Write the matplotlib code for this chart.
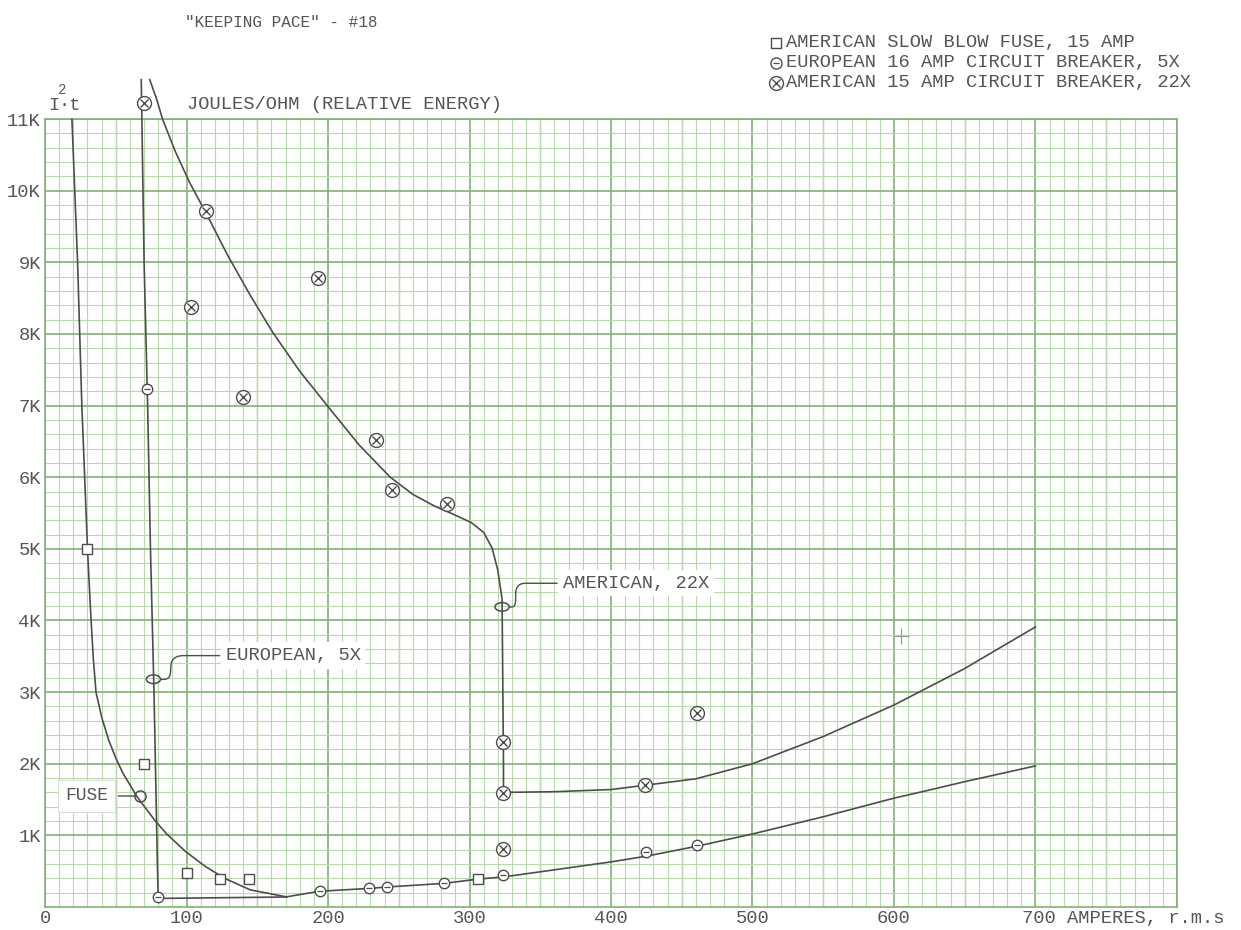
import numpy as np
import matplotlib
matplotlib.use("Agg")
import matplotlib.pyplot as plt
from matplotlib.path import Path
from matplotlib.patches import PathPatch, Ellipse
import matplotlib.transforms as mtransforms

plt.rcParams['font.family'] = ['Liberation Mono', 'DejaVu Sans Mono', 'DejaVu Sans']

# measured points (amperes, joules/ohm)
fuse_x = [30, 70, 100, 124, 144, 306]
fuse_y = [5000, 2000, 470, 390, 390, 390]

euro_x = [72, 80, 194, 229, 242, 282, 324, 425, 461]
euro_y = [7230, 140, 220, 260, 280, 330, 450, 770, 870]

amer_x = [70, 114, 103, 140, 193, 234, 245, 284, 324, 324, 324, 424, 461]
amer_y = [11230, 9710, 8380, 7120, 8780, 6520, 5820, 5630, 2310, 1590, 810, 1700, 2710]

# hand drawn curves
fuse_curve_x = [19, 23, 26, 30, 32, 34, 36, 40, 45, 50, 55, 65, 78, 86, 99, 113, 127, 145, 171]
fuse_curve_y = [11000, 9000, 7000, 5000, 4200, 3500, 3000, 2650, 2330, 2080, 1870, 1540, 1200,
                1020, 780, 570, 400, 240, 140]

euro_curve_x = [68, 70, 72.5, 74.5, 77, 79.5, 80, 170, 194, 229, 242, 282, 306, 324,
                400, 425, 461, 500, 550, 600, 620, 650, 700]
euro_curve_y = [11550, 9000, 7000, 5000, 3000, 500, 120, 140, 220, 260, 280, 330, 390, 420,
                630, 710, 850, 1020, 1260, 1520, 1610, 1750, 1970]

amer_curve_x = [74, 79, 83, 92, 102, 114, 129, 145, 161, 180, 199, 222, 244, 260, 275,
                290, 301, 310, 316, 320, 323, 324, 324, 360, 400, 424, 460, 500, 550, 600, 650, 700]
amer_curve_y = [11550, 11270, 11000, 10550, 10120, 9680, 9100, 8540, 8020, 7480, 7010, 6450,
                6000, 5760, 5600, 5470, 5370, 5230, 5010, 4700, 4300, 2000, 1600, 1610,
                1640, 1700, 1790, 2000, 2380, 2820, 3330, 3910]

x_ticks = [0, 100, 200, 300, 400, 500, 600, 700]
x_labels = ['0', '100', '200', '300', '400', '500', '600', '700 AMPERES, r.m.s']
y_ticks = [1000, 2000, 3000, 4000, 5000, 6000, 7000, 8000, 9000, 10000, 11000]
y_labels = ['1K', '2K', '3K', '4K', '5K', '6K', '7K', '8K', '9K', '10K', '11K']

legend_lines = ['AMERICAN SLOW BLOW FUSE, 15 AMP',
                'EUROPEAN 16 AMP CIRCUIT BREAKER, 5X',
                'AMERICAN 15 AMP CIRCUIT BREAKER, 22X']

ink = '#4d4d4d'
txt = '#555555'
major = '#82b277'
medium = '#a6cb9c'
minor = '#b8d9ae'

fig = plt.figure(figsize=(12.41, 9.30), dpi=100)
ax = fig.add_axes([0.0363, 0.0247, 0.9121, 0.8473])
ax.set_xlim(0, 800)
ax.set_ylim(0, 11000)

# graph paper
ax.set_xticks(x_ticks)
ax.set_xticks(np.arange(0, 801, 10), minor=True)
ax.set_yticks(y_ticks)
ax.set_yticks(np.arange(0, 11001, 200), minor=True)
ax.grid(which='minor', color=minor, lw=0.8, zorder=0)
ax.grid(which='major', color=major, lw=1.2, zorder=0)
ax.vlines(np.arange(50, 800, 100), 0, 11000, color=medium, lw=1.0, zorder=0)
ax.vlines([800], 0, 11000, color=major, lw=1.2, zorder=0)
ax.set_axisbelow(True)
for s in ax.spines.values():
    s.set_color(major)
    s.set_linewidth(1.2)
ax.tick_params(which='both', length=0, colors=txt, labelsize=13.5)
ax.tick_params(axis='x', pad=2)
ax.tick_params(axis='y', pad=3)
ax.set_yticklabels(y_labels)
ax.set_xticklabels(x_labels)
last = ax.get_xticklabels()[-1]
last.set_ha('left')
last.set_transform(last.get_transform() + mtransforms.ScaledTranslation(-10 / 72, 0, fig.dpi_scale_trans))

# curves
ax.plot(fuse_curve_x, fuse_curve_y, color=ink, lw=1.2, zorder=3, clip_on=False)
ax.plot(euro_curve_x, euro_curve_y, color=ink, lw=1.2, zorder=3, clip_on=False)
ax.plot(amer_curve_x, amer_curve_y, color=ink, lw=1.2, zorder=3, clip_on=False)

# markers
ax.plot(fuse_x, fuse_y, 's', ms=7, mfc='white', mec=ink, mew=1.0, zorder=4, clip_on=False)
ax.plot(euro_x, euro_y, 'o', ms=7.5, mfc='white', mec=ink, mew=1.0, zorder=4, clip_on=False)
ax.plot(euro_x, euro_y, '_', ms=4, mec=ink, mew=0.9, zorder=5, clip_on=False)
ax.plot(amer_x, amer_y, 'o', ms=10, mfc='white', mec=ink, mew=1.0, zorder=4, clip_on=False)
ax.plot(amer_x, amer_y, 'x', ms=6, mec=ink, mew=1.0, zorder=5, clip_on=False)

# stray pencil mark
ax.plot([605], [3780], '+', ms=12, mec='#999999', mew=0.8, zorder=3)


def callout(x, y, label, knee, text_dx):
    # oval on the curve, S-shaped lead up to a horizontal line and the label
    ax.add_patch(Ellipse((x, y), 10, 120, fill=False, ec=ink, lw=1.1, zorder=6))
    kx, ky = knee
    verts = [(5, 0), (kx * 0.9, -2), (kx * 0.2, ky), (kx, ky), (text_dx - 4, ky)]
    codes = [Path.MOVETO, Path.CURVE4, Path.CURVE4, Path.CURVE4, Path.LINETO]
    base = ax.transData.transform((x, y))
    disp = base + np.array(verts) / 72.0 * fig.dpi
    ax.add_patch(PathPatch(Path(disp, codes), transform=None, fill=False, ec=ink, lw=1.0, zorder=6))
    ax.annotate(label, xy=(x, y), xytext=(text_dx, ky), textcoords='offset points',
                ha='left', va='center', fontsize=13.5, color=txt, zorder=7,
                bbox=dict(boxstyle='square,pad=0.25', fc='white', ec='none'))


callout(76.6, 3180, 'EUROPEAN, 5X', (22, 17), 52)
callout(323, 4190, 'AMERICAN, 22X', (17, 17), 44)

# fuse label
ax.plot([67], [1550], 'o', ms=8, mfc='none', mec=ink, mew=1.1, zorder=6)
ax.annotate('FUSE', xy=(64, 1550), xytext=(-20, 0), textcoords='offset points',
            ha='right', va='center', fontsize=13, color=txt, zorder=7,
            arrowprops=dict(arrowstyle='-', color=ink, lw=1.0, shrinkA=2, shrinkB=0),
            bbox=dict(boxstyle='square,pad=0.4', fc='white', ec='#dddddd', lw=0.8))

# titles
fig.text(0.2265, 0.976, '"KEEPING PACE" - #18', fontsize=11.5, color=txt, ha='center', va='center')
fig.text(0.039, 0.887, 'I', fontsize=13.5, color=txt, ha='left', va='center')
fig.text(0.0465, 0.903, '2', fontsize=10, color=txt, ha='left', va='center')
fig.text(0.0475, 0.887, '\u00b7t', fontsize=13.5, color=txt, ha='left', va='center')
fig.text(0.151, 0.888, 'JOULES/OHM (RELATIVE ENERGY)', fontsize=13.5, color=txt,
         ha='left', va='center')

# key
for i, line in enumerate(legend_lines):
    yy = 0.954 - i * 0.0215
    fig.text(0.633, yy, line, fontsize=13.5, color=txt, ha='left', va='center')
    mk = fig.add_axes([0.618, yy - 0.01, 0.014, 0.02])
    mk.set_axis_off()
    mk.set_xlim(-1, 1)
    mk.set_ylim(-1, 1)
    if i == 0:
        mk.plot([0], [0], 's', ms=7, mfc='white', mec=ink, mew=1.0)
    elif i == 1:
        mk.plot([0], [0], 'o', ms=8, mfc='white', mec=ink, mew=1.0)
        mk.plot([0], [0], '_', ms=4, mec=ink, mew=0.9)
    else:
        mk.plot([0], [0], 'o', ms=10, mfc='white', mec=ink, mew=1.0)
        mk.plot([0], [0], 'x', ms=6, mec=ink, mew=1.0)

fig.savefig('out.png', dpi=100)
